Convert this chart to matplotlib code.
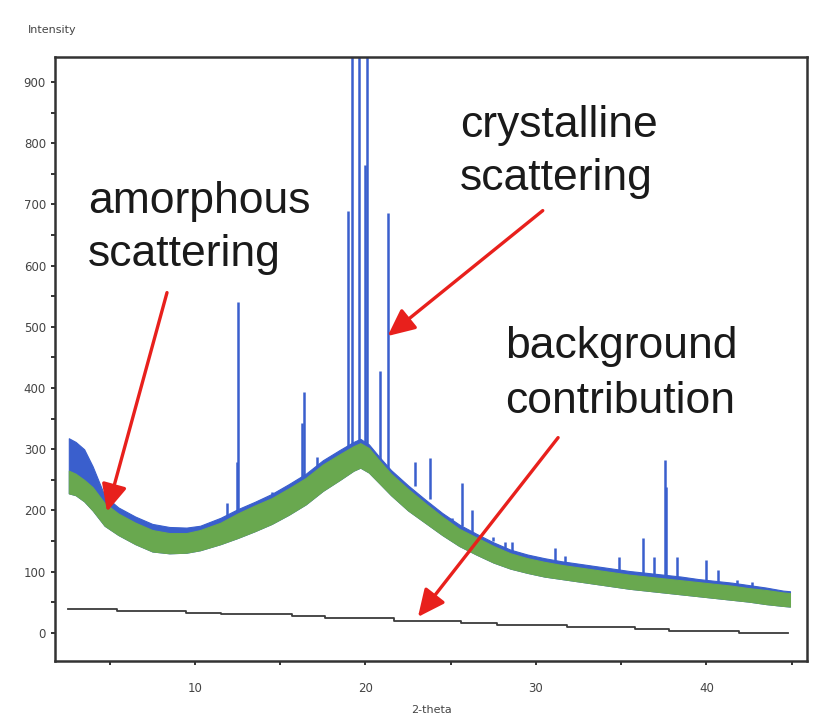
import matplotlib
matplotlib.use("Agg")
import matplotlib.pyplot as plt
from matplotlib.ticker import MultipleLocator

# --- diffraction pattern (2-theta vs intensity) ---
# envelope of the measured band
env_x = [2.6, 3.0, 3.5, 4.0, 4.7, 5.5, 6.5, 7.5, 8.5, 9.5, 10.3, 11.5, 12.5, 13.5,
         14.5, 15.5, 16.5, 17.5, 18.5, 19.3, 19.7, 20.2, 20.8, 21.5, 22.5, 23.5,
         24.5, 25.5, 26.5, 27.5, 28.5, 29.5, 30.5, 31.5, 32.5, 33.5, 34.5, 35.5,
         36.5, 37.5, 38.5, 39.5, 40.5, 41.5, 42.5, 43.5, 44.5, 44.9]
amorph_lo = [228, 225, 215, 200, 175, 160, 145, 133, 130, 131, 135, 145, 155, 166,
             178, 193, 210, 232, 250, 265, 270, 262, 245, 225, 200, 180,
             160, 142, 128, 115, 105, 98, 92, 88, 84, 80, 76, 72,
             69, 66, 63, 60, 57, 54, 51, 47, 44, 43]
amorph_hi = [265, 260, 250, 238, 212, 195, 180, 168, 163, 163, 168, 180, 195, 208,
             220, 236, 253, 275, 292, 305, 310, 302, 282, 260, 235, 212,
             190, 170, 156, 142, 130, 122, 116, 111, 107, 103, 99, 95,
             92, 89, 86, 83, 80, 77, 73, 70, 66, 65]
total_hi = [318, 312, 300, 272, 224, 205, 190, 178, 173, 172, 175, 188, 202, 214,
            227, 243, 260, 282, 299, 312, 317, 308, 288, 266, 241, 218,
            196, 177, 162, 148, 136, 128, 122, 117, 113, 109, 105, 101,
            98, 95, 92, 88, 85, 82, 78, 74, 69, 68]

# crystalline reflections
peak_x = [11.9, 12.45, 12.55, 14.5, 16.3, 16.4, 17.15, 19.0, 19.2, 19.6, 19.97,
          20.1, 20.85, 21.3, 22.9, 23.8, 25.1, 25.65, 26.25, 27.5, 28.2, 28.6,
          31.1, 31.7, 34.9, 36.3, 36.9, 37.55, 37.65, 38.3, 40.0, 40.7, 41.8, 42.7]
peak_top = [212, 280, 540, 230, 343, 394, 288, 690, 1200, 1200, 765,
            1200, 428, 686, 280, 286, 188, 245, 201, 157, 149, 149,
            139, 126, 124, 155, 124, 283, 239, 124, 119, 103, 87, 83]
peak_base = [180, 195, 195, 220, 245, 245, 265, 290, 300, 305, 305,
             300, 280, 265, 240, 218, 185, 175, 165, 150, 138, 132,
             112, 110, 97, 92, 90, 89, 89, 87, 83, 80, 77, 73]

# background contribution (stepwise)
bg_x = [2.55, 5.4, 9.5, 11.5, 15.7, 17.6, 21.7, 25.6, 27.7, 31.8, 35.8, 37.8, 41.9, 44.8]
bg_y = [39, 36, 33, 30, 27, 24.5, 20, 16.5, 13, 10, 6.5, 3.5, 0.5, 0.5]

BLUE = "#3a5fcd"
GREEN = "#69a84f"
RED = "#e8201c"

fig = plt.figure(figsize=(8.16, 7.26), dpi=100)
fig.patch.set_facecolor("white")
ax = fig.add_axes([55 / 816, 65 / 726, 752 / 816, 604 / 726])

ax.fill_between(env_x, amorph_lo, total_hi, facecolor=BLUE, edgecolor=BLUE, lw=0.8, zorder=2)
ax.vlines(peak_x, peak_base, peak_top, color=BLUE, lw=1.8, zorder=2)
ax.fill_between(env_x, amorph_lo, amorph_hi, facecolor=GREEN, edgecolor=GREEN, lw=0.8, zorder=3)
ax.step(bg_x, bg_y, where="post", color="#3c3c3c", lw=1.3, zorder=3)

ax.set_xlim(1.79, 45.9)
ax.set_ylim(-46, 941)
ax.xaxis.set_major_locator(MultipleLocator(10))
ax.xaxis.set_minor_locator(MultipleLocator(5))
ax.yaxis.set_major_locator(MultipleLocator(100))
ax.yaxis.set_minor_locator(MultipleLocator(50))
ax.tick_params(which="both", direction="out", length=3, width=1.4, color="#333333",
               labelsize=8.5, labelcolor="#444444")
ax.tick_params(axis="x", pad=12)
for s in ax.spines.values():
    s.set_linewidth(1.8)
    s.set_color("#333333")

fig.text(28 / 816, 1 - 30 / 726, "Intensity", fontsize=8, color="#444444",
         ha="left", va="center")
fig.text(432 / 816, 1 - 710 / 726, "2-theta", fontsize=8, color="#444444",
         ha="center", va="center")

# annotations
big = dict(fontsize=32, family="Liberation Sans", color="#1a1a1a", ha="left", va="baseline")
fig.text(88 / 816, 1 - 213 / 726, "amorphous", **big)
fig.text(88 / 816, 1 - 266 / 726, "scattering", **big)
fig.text(460 / 816, 1 - 137 / 726, "crystalline", **big)
fig.text(460 / 816, 1 - 190 / 726, "scattering", **big)
fig.text(505 / 816, 1 - 358 / 726, "background", **big)
fig.text(505 / 816, 1 - 413 / 726, "contribution", **big)

arrow = dict(arrowstyle="-|>,head_length=0.75,head_width=0.35", color=RED, lw=2.4,
             mutation_scale=22, shrinkA=0, shrinkB=0)
ax.annotate("", xy=(4.84, 198), xytext=(8.36, 556), arrowprops=arrow, zorder=5)
ax.annotate("", xy=(21.3, 485), xytext=(30.4, 690), arrowprops=arrow, zorder=5)
ax.annotate("", xy=(23.08, 26), xytext=(31.3, 319), arrowprops=arrow, zorder=5)

fig.savefig("out.png", dpi=100, facecolor="white")
